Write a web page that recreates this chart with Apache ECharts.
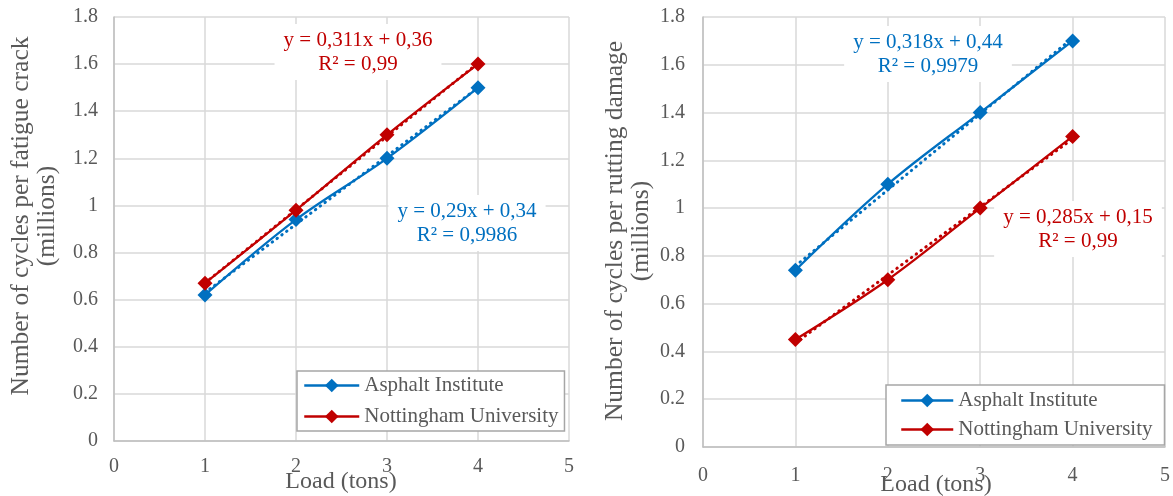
<!DOCTYPE html>
<html>
<head>
<meta charset="utf-8">
<script src="https://cdn.jsdelivr.net/npm/echarts@6/dist/echarts.min.js"></script>
<style>
  html, body { margin: 0; padding: 0; background: #ffffff; }
  #chart { width: 1173px; height: 496px; }
</style>
</head>
<body>
<div id="chart"></div>
<script>
// Load in tons (x values shared by both panels)
const loads = [1, 2, 3, 4];

// Fatigue cracking: cycles to failure, millions
const fatigueAsphalt = [0.62, 0.94, 1.2, 1.5];
const fatigueNottingham = [0.67, 0.98, 1.3, 1.6];

// Rutting damage: cycles to failure, millions
const ruttingAsphalt = [0.74, 1.1, 1.4, 1.7];
const ruttingNottingham = [0.45, 0.7, 1.0, 1.3];

// Linear trendlines: [slope, intercept, R²]
const fatigueAsphaltFit = [0.29, 0.34, 0.9986];
const fatigueNottinghamFit = [0.311, 0.36, 0.99];
const ruttingAsphaltFit = [0.318, 0.44, 0.9979];
const ruttingNottinghamFit = [0.285, 0.15, 0.99];

const seriesNames = ['Asphalt Institute', 'Nottingham University'];
const xAxisTitle = 'Load (tons)';
const yAxisTitles = [
  'Number of cycles per fatigue crack\n(millions)',
  'Number of cycles per rutting damage\n(millions)'
];

const BLUE = '#0070C0';
const RED = '#C00000';
const TEXT = '#595959';
const GRIDLINE = '#D9D9D9';
const AXISLINE = '#BFBFBF';
const FONT = '"Liberation Serif", "Times New Roman", serif';

const chart = echarts.init(document.getElementById('chart'));

function pairs(ys) { return loads.map((x, i) => [x, ys[i]]); }

// trendline drawn across the measured load range from the fitted equation
function trend(fit) {
  const x0 = loads[0], x1 = loads[loads.length - 1];
  return [[x0, fit[0] * x0 + fit[1]], [x1, fit[0] * x1 + fit[1]]];
}

function comma(v) { return String(v).replace('.', ','); }
function eqText(fit) {
  return 'y = ' + comma(fit[0]) + 'x + ' + comma(fit[1]) + '\nR² = ' + comma(fit[2]);
}

function dataSeries(name, ys, color, gi) {
  return {
    type: 'line', name: name, data: pairs(ys),
    xAxisIndex: gi, yAxisIndex: gi,
    smooth: 0.35,
    symbol: 'diamond', symbolSize: 15,
    lineStyle: { color: color, width: 2.25 },
    itemStyle: { color: color },
    emphasis: { disabled: true },
    z: 3
  };
}

function trendSeries(name, fit, color, gi) {
  return {
    type: 'line', name: name + ' trend', data: trend(fit),
    xAxisIndex: gi, yAxisIndex: gi,
    symbol: 'none',
    lineStyle: { color: color, width: 3, type: [0.5, 5.5], cap: 'round' },
    emphasis: { disabled: true },
    z: 4
  };
}

function xAxis(gi, margin) {
  return {
    type: 'value', gridIndex: gi, min: 0, max: 5, interval: 1,
    axisLine: { show: true, lineStyle: { color: AXISLINE, width: 1.5 } },
    axisTick: { show: false },
    axisLabel: { color: TEXT, fontFamily: FONT, fontSize: 20, margin: margin },
    splitLine: { show: true, lineStyle: { color: GRIDLINE, width: 1.5 } }
  };
}

function yAxis(gi, margin) {
  return {
    type: 'value', gridIndex: gi, min: 0, max: 1.8, interval: 0.2,
    axisLine: { show: true, lineStyle: { color: AXISLINE, width: 1.5 } },
    axisTick: { show: false },
    axisLabel: {
      color: TEXT, fontFamily: FONT, fontSize: 20, margin: margin,
      formatter: v => String(+v.toFixed(1))
    },
    splitLine: { show: true, lineStyle: { color: GRIDLINE, width: 1.5 } }
  };
}

function legend(left, top, padding, itemWidth, gap) {
  return {
    data: seriesNames,
    orient: 'vertical', left: left, top: top,
    padding: padding, itemGap: gap,
    itemWidth: itemWidth, itemHeight: 17,
    backgroundColor: '#ffffff',
    borderColor: '#A6A6A6', borderWidth: 1.5,
    selectedMode: false,
    itemStyle: {},
    lineStyle: { width: 2.5 },
    textStyle: { color: TEXT, fontFamily: FONT, fontSize: 21, lineHeight: 20 }
  };
}

function eqLabel(fit, color, x, y) {
  return {
    type: 'text', x: x, y: y, z: 10,
    style: {
      text: eqText(fit), fill: color,
      font: '21px ' + FONT, lineHeight: 24,
      align: 'center', verticalAlign: 'middle',
      backgroundColor: '#ffffff', padding: [4, 9]
    }
  };
}

function titleText(text, x, y, rotate, size) {
  return {
    type: 'text', x: x, y: y, rotation: rotate ? Math.PI / 2 : 0,
    style: {
      text: text, fill: TEXT, font: size + 'px ' + FONT, lineHeight: 26,
      align: 'center', verticalAlign: 'middle'
    }
  };
}

const option = {
  animation: false,
  backgroundColor: '#ffffff',
  grid: [
    { left: 114, right: 604, top: 17, bottom: 55 },
    { left: 703, right: 8, top: 17, bottom: 49 }
  ],
  xAxis: [xAxis(0, 16), xAxis(1, 19)],
  yAxis: [yAxis(0, 16), yAxis(1, 18)],
  legend: [
    legend(297, 371, [4, 6, 4, 6], 55, 10),
    legend(886, 385, [5, 12, 5, 14], 52, 8)
  ],
  series: [
    dataSeries(seriesNames[0], fatigueAsphalt, BLUE, 0),
    dataSeries(seriesNames[1], fatigueNottingham, RED, 0),
    trendSeries(seriesNames[0], fatigueAsphaltFit, BLUE, 0),
    trendSeries(seriesNames[1], fatigueNottinghamFit, RED, 0),
    dataSeries(seriesNames[0], ruttingAsphalt, BLUE, 1),
    dataSeries(seriesNames[1], ruttingNottingham, RED, 1),
    trendSeries(seriesNames[0], ruttingAsphaltFit, BLUE, 1),
    trendSeries(seriesNames[1], ruttingNottinghamFit, RED, 1)
  ],
  graphic: [
    eqLabel(fatigueNottinghamFit, RED, 358, 52),
    eqLabel(fatigueAsphaltFit, BLUE, 467, 223),
    eqLabel(ruttingAsphaltFit, BLUE, 928, 54),
    eqLabel(ruttingNottinghamFit, RED, 1078, 229),
    titleText(xAxisTitle, 341, 482, false, 24),
    titleText(xAxisTitle, 936, 485, false, 24),
    titleText(yAxisTitles[0], 34, 216, true, 25.5),
    titleText(yAxisTitles[1], 628, 231, true, 25.5)
  ]
};

chart.setOption(option);
</script>
</body>
</html>
